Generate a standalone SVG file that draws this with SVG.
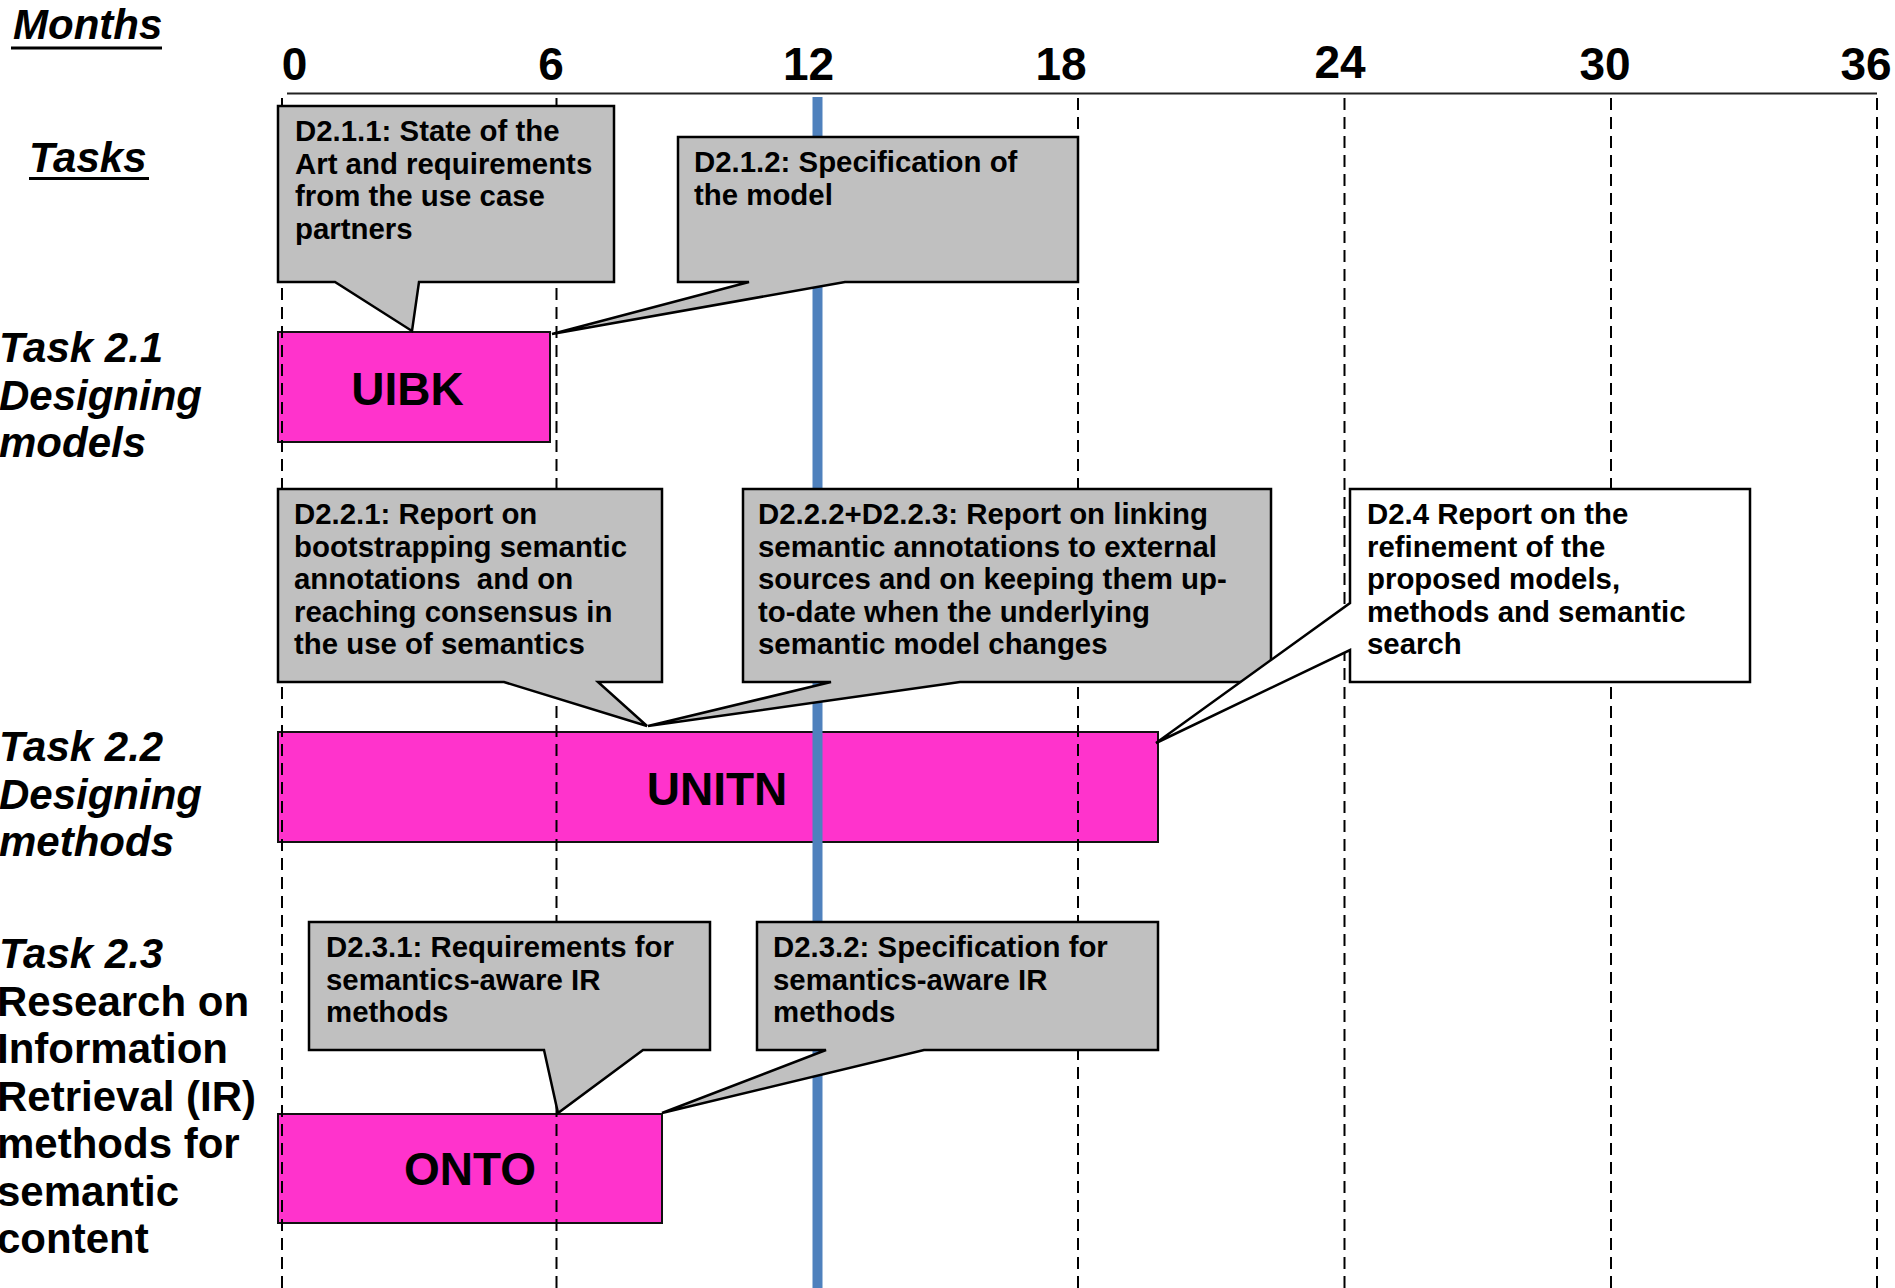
<svg xmlns="http://www.w3.org/2000/svg" width="1895" height="1288" viewBox="0 0 1895 1288">
<style>
  text { font-family: "Liberation Sans", Arial, sans-serif; font-weight: bold; fill: #000; }
  .hdr { font-size: 42px; font-style: italic; }
  .num { font-size: 46px; text-anchor: middle; }
  .task { font-size: 42px; }
  .it { font-style: italic; }
  .bar { fill: #FF33CC; stroke: #111; stroke-width: 2; }
  .barlbl { font-size: 46px; text-anchor: middle; }
  .call { fill: #C0C0C0; stroke: #000; stroke-width: 2.5; stroke-linejoin: miter; }
  .callw { fill: #FFFFFF; stroke: #000; stroke-width: 2.5; }
  .ct { font-size: 29.4px; }
  .dash { stroke: #000; stroke-width: 2; stroke-dasharray: 12 7; fill: none; }
  .axis { stroke: #222; stroke-width: 2.2; }
  .now { stroke: #4F81BD; stroke-width: 10; }
</style>
<rect x="0" y="0" width="1895" height="1288" fill="#FFFFFF"/>

<g id="headers">
  <text class="hdr" x="13" y="39">Months</text>
  <rect x="11" y="46.5" width="151" height="3" fill="#000"/>
  <text class="hdr" x="29" y="172">Tasks</text>
  <rect x="29" y="177" width="120" height="3" fill="#000"/>
</g>

<g id="month-scale">
  <text class="num" x="294.5" y="80">0</text>
  <text class="num" x="551" y="80">6</text>
  <text class="num" x="808.5" y="80">12</text>
  <text class="num" x="1061" y="80">18</text>
  <text class="num" x="1340" y="78">24</text>
  <text class="num" x="1605" y="80">30</text>
  <text class="num" x="1866" y="80">36</text>
  <line class="axis" x1="287" y1="93.5" x2="1877" y2="93.5"/>
</g>

<g id="task-labels">
  <text class="task it" x="-1" y="362">Task 2.1</text>
  <text class="task it" x="-1" y="409.5">Designing</text>
  <text class="task it" x="-1" y="457">models</text>
  <text class="task it" x="-1" y="761">Task 2.2</text>
  <text class="task it" x="-1" y="808.5">Designing</text>
  <text class="task it" x="-1" y="856">methods</text>
  <text class="task it" x="-1" y="968">Task 2.3</text>
  <text class="task" x="-3" y="1015.5">Research on</text>
  <text class="task" x="-3" y="1063">Information</text>
  <text class="task" x="-3" y="1110.5">Retrieval (IR)</text>
  <text class="task" x="-3" y="1158">methods for</text>
  <text class="task" x="-3" y="1205.5">semantic</text>
  <text class="task" x="-3" y="1253">content</text>
</g>

<g id="bar-UIBK">
  <rect class="bar" x="278" y="332" width="272" height="110"/>
  <text class="barlbl" x="407.5" y="405">UIBK</text>
</g>
<g id="bar-UNITN">
  <rect class="bar" x="278" y="732" width="880" height="110"/>
  <text class="barlbl" x="717" y="805">UNITN</text>
</g>
<g id="bar-ONTO">
  <rect class="bar" x="278" y="1114" width="384" height="109"/>
  <text class="barlbl" x="470" y="1185">ONTO</text>
</g>

<g id="grid">
  <line class="dash" x1="282" y1="98" x2="282" y2="1288"/>
  <line class="dash" x1="556.5" y1="98" x2="556.5" y2="1288"/>
  <line class="dash" x1="1078" y1="98" x2="1078" y2="1288"/>
  <line class="dash" x1="1344.5" y1="98" x2="1344.5" y2="1288"/>
  <line class="dash" x1="1611" y1="98" x2="1611" y2="1288"/>
  <line class="dash" x1="1877" y1="98" x2="1877" y2="1288"/>
  <line class="now" x1="817.5" y1="97" x2="817.5" y2="1288"/>
</g>

<g id="D2.1.1">
  <path class="call" d="M278,106 H614 V282 H419 L412,331 L335,282 H278 Z"/>
  <text class="ct" x="295" y="141">D2.1.1: State of the</text>
  <text class="ct" x="295" y="173.5">Art and requirements</text>
  <text class="ct" x="295" y="206">from the use case</text>
  <text class="ct" x="295" y="238.5">partners</text>
</g>

<g id="D2.1.2">
  <path class="call" d="M678,137 H1078 V282 H845 L552,334 L749,282 H678 Z"/>
  <text class="ct" x="694" y="172">D2.1.2: Specification of</text>
  <text class="ct" x="694" y="204.5">the model</text>
</g>

<g id="D2.2.1">
  <path class="call" d="M278,489 H662 V682 H598 L647,726 L504,682 H278 Z"/>
  <text class="ct" x="294" y="524">D2.2.1: Report on</text>
  <text class="ct" x="294" y="556.5">bootstrapping semantic</text>
  <text class="ct" x="294" y="589" xml:space="preserve">annotations  and on</text>
  <text class="ct" x="294" y="621.5">reaching consensus in</text>
  <text class="ct" x="294" y="654">the use of semantics</text>
</g>

<g id="D2.2.2-D2.2.3">
  <path class="call" d="M743,489 H1271 V682 H960 L648,726 L831,682 H743 Z"/>
  <text class="ct" x="758" y="524">D2.2.2+D2.2.3: Report on linking</text>
  <text class="ct" x="758" y="556.5">semantic annotations to external</text>
  <text class="ct" x="758" y="589">sources and on keeping them up-</text>
  <text class="ct" x="758" y="621.5">to-date when the underlying</text>
  <text class="ct" x="758" y="654">semantic model changes</text>
</g>

<g id="D2.4">
  <path class="callw" d="M1350,489 H1750 V682 H1350 V650 L1156,743 L1350,603 Z"/>
  <text class="ct" x="1367" y="524">D2.4 Report on the</text>
  <text class="ct" x="1367" y="556.5">refinement of the</text>
  <text class="ct" x="1367" y="589">proposed models,</text>
  <text class="ct" x="1367" y="621.5">methods and semantic</text>
  <text class="ct" x="1367" y="654">search</text>
</g>

<g id="D2.3.1">
  <path class="call" d="M309,922 H710 V1050 H643 L558,1113 L544,1050 H309 Z"/>
  <text class="ct" x="326" y="957">D2.3.1: Requirements for</text>
  <text class="ct" x="326" y="989.5">semantics-aware IR</text>
  <text class="ct" x="326" y="1022">methods</text>
</g>

<g id="D2.3.2">
  <path class="call" d="M757,922 H1158 V1050 H924 L662,1113 L826,1050 H757 Z"/>
  <text class="ct" x="773" y="957">D2.3.2: Specification for</text>
  <text class="ct" x="773" y="989.5">semantics-aware IR</text>
  <text class="ct" x="773" y="1022">methods</text>
</g>
</svg>
